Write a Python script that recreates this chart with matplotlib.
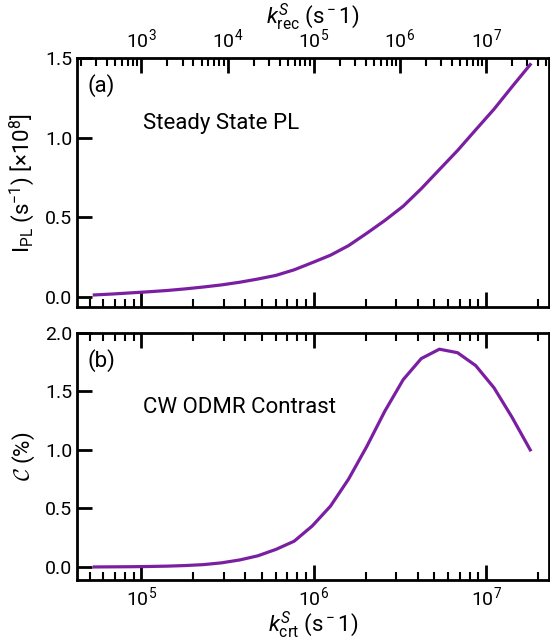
import numpy as np
import matplotlib.pyplot as plt

plt.rcParams['font.family'] = ['Roboto', 'DejaVu Sans']
plt.rcParams['mathtext.fontset'] = 'custom'
plt.rcParams['mathtext.rm'] = 'Roboto'
plt.rcParams['mathtext.it'] = 'Roboto:italic'

# crossing rate k_crt^S (s^-1)
k_crt = [5.33e4, 6.79e4, 8.67e4, 1.10e5, 1.41e5, 1.79e5, 2.29e5, 2.91e5,
         3.72e5, 4.73e5, 6.03e5, 7.69e5, 9.79e5, 1.25e6, 1.59e6, 2.03e6,
         2.58e6, 3.30e6, 4.20e6, 5.35e6, 6.82e6, 8.69e6, 1.11e7, 1.41e7,
         1.80e7]
# steady state PL (x1e8 s^-1)
pl = [0.012, 0.018, 0.025, 0.032, 0.040, 0.050, 0.062, 0.075, 0.092, 0.112,
      0.135, 0.170, 0.215, 0.262, 0.322, 0.40, 0.48, 0.57, 0.68, 0.80, 0.92,
      1.05, 1.18, 1.32, 1.46]
# CW ODMR contrast (%)
contrast = [0.0, 0.001, 0.002, 0.004, 0.007, 0.012, 0.02, 0.035, 0.06, 0.095,
            0.15, 0.22, 0.35, 0.52, 0.75, 1.03, 1.33, 1.60, 1.78, 1.86, 1.83,
            1.72, 1.53, 1.28, 1.00]

purple = '#7b1fa2'

def style(ax, top=True):
    ax.set_xscale('log')
    ax.tick_params(which='both', direction='in', top=top, right=False, width=2)
    ax.tick_params(which='major', length=11, labelsize=14)
    ax.tick_params(which='minor', length=6, width=1.5)
    for s in ax.spines.values():
        s.set_linewidth(2)
    ax.set_xlim(4.23e4, 2.31e7)

fig = plt.figure(figsize=(5.5, 6.4), dpi=100)
ax1 = fig.add_axes([0.14, 0.520, 0.858, 0.389])
ax2 = fig.add_axes([0.14, 0.094, 0.858, 0.386])

ax1.plot(k_crt, pl, color=purple, lw=2.3)
style(ax1, top=False)
ax1.set_ylim(-0.065, 1.5)
ax1.set_yticks([0.0, 0.5, 1.0, 1.5])
ax1.tick_params(labelbottom=False)
ax1.set_ylabel(r'I$_{\rm PL}$ (s$^{-1}$) [$\times$10$^8$]', fontsize=16, labelpad=6)
ax1.text(0.022, 0.935, '(a)', transform=ax1.transAxes, fontsize=16, va='top')
ax1.text(0.14, 0.715, 'Steady State PL', transform=ax1.transAxes, fontsize=16)

sec = ax1.secondary_xaxis('top', functions=(lambda x: x**2 / 1e7,
                                            lambda x: np.sqrt(x * 1e7)))
sec.tick_params(which='both', direction='in', width=2)
sec.tick_params(which='major', length=11, labelsize=14, pad=5)
sec.tick_params(which='minor', length=6, width=1.5)
sec.set_xlabel(r'$k^{S}_{\rm rec}$ (s$^-$1)', fontsize=16, labelpad=2)

ax2.plot(k_crt, contrast, color=purple, lw=2.3)
style(ax2)
ax2.set_ylim(-0.11, 2.0)
ax2.set_yticks([0.0, 0.5, 1.0, 1.5, 2.0])
ax2.set_ylabel(r'$\mathcal{C}$ (%)', fontsize=16, math_fontfamily='cm', labelpad=6)
ax2.set_xlabel(r'$k^{S}_{\rm crt}$ (s$^-$1)', fontsize=16, labelpad=1)
ax2.text(0.022, 0.935, '(b)', transform=ax2.transAxes, fontsize=16, va='top')
ax2.text(0.14, 0.675, 'CW ODMR Contrast', transform=ax2.transAxes, fontsize=16)

fig.savefig('out.png', dpi=100)
